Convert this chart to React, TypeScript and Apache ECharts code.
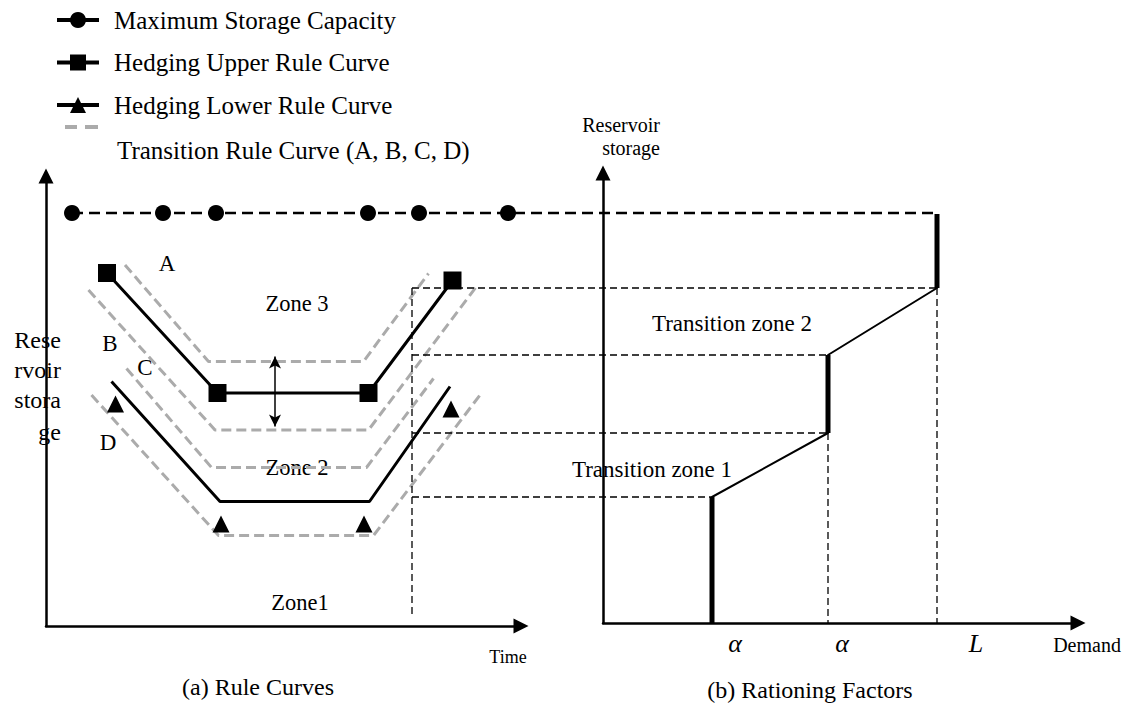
import { useEffect, useRef } from "react";
import * as echarts from "echarts";

// ---------- data (schematic units: 1 unit of time / storage / demand) ----------
const maxStorageTime = [5.2, 23.4, 34, 64.4, 74.6, 92.4];
const maxStorageLevel = 82.6;

const upperRuleTime = [12.2, 34.3, 64.5, 81.3];
const upperRuleStorage = [70.6, 46.6, 46.6, 69.1];

const lowerRuleTime = [13.1, 34.8, 64.7, 80.8];
const lowerRuleStorage = [48.9, 24.9, 24.9, 47.9];
const lowerMarkerTime = [13.9, 35, 63.6, 81];
const lowerMarkerStorage = [44.4, 20.4, 20.4, 43.4];

const curveATime = [15.8, 32.5, 63.5, 76.5];
const curveAStorage = [72.2, 52.9, 52.9, 70.5];
const curveBTime = [8.5, 33.8, 64.5, 86.1];
const curveBStorage = [67.2, 39.2, 39.2, 67.9];
const curveCTime = [16.1, 33.1, 64.1, 77.5];
const curveCStorage = [51.5, 31.7, 31.7, 49.5];
const curveDTime = [9.1, 34.5, 65.5, 86.8];
const curveDStorage = [46.2, 18.1, 18.1, 46.2];

const bufferArrowTime = 45.8;
const bufferArrowStorage = [53.9, 39.9];

const switchTime = 73.2;
const switchBottom = 1.8;

const rationDemand = [21.8, 21.8, 45, 45, 66.8, 66.8];
const rationStorage = [0, 25.2, 38, 53.6, 67, 81.8];

// ---------- layout ----------
const UNIT = 5;
const GRID_A = { left: 46, top: 176, width: 475, height: 450 };
const GRID_B = { left: 603, top: 173, width: 475, height: 450 };
// overlay frame sharing panel (a)'s origin and scale, spanning both panels
const GRID_C = { left: 46, top: 176, width: 1040, height: 450 };
const PANEL_OFFSET = (GRID_B.left - GRID_A.left) / UNIT;
const ORIGIN_SHIFT =
  (GRID_A.top + GRID_A.height - (GRID_B.top + GRID_B.height)) / UNIT;
const SERIF = '"Liberation Serif", "Times New Roman", serif';

const pair = (xs: number[], ys: number[]) => xs.map((x, i) => [x, ys[i]]);

const axisCommon = {
  type: "value" as const,
  min: 0,
  axisTick: { show: false },
  axisLabel: { show: false },
  splitLine: { show: false },
  axisLine: {
    show: true,
    symbol: ["none", "triangle"],
    symbolSize: [15, 15],
    lineStyle: { color: "#000", width: 2.5 },
  },
};

const hiddenAxis = {
  type: "value" as const,
  min: 0,
  show: false,
  splitLine: { show: false },
};

const blackDash = (width: number, dash: number[]) => ({
  color: "#000",
  width,
  type: dash,
  cap: "butt",
});

const txt = (
  text: string,
  x: number,
  y: number,
  size: number,
  align: string = "center",
  italic = false
) => ({
  type: "text",
  x,
  y,
  silent: true,
  style: {
    text,
    font: `${italic ? "italic " : ""}${size}px ${SERIF}`,
    fill: "#000",
    align,
    verticalAlign: "middle",
  },
});

export default function App() {
  const ref = useRef<HTMLDivElement>(null);

  useEffect(() => {
    if (!ref.current) return;
    const chart = echarts.init(ref.current, undefined, { renderer: "svg" });

    const transitionCurves = [
      pair(curveATime, curveAStorage),
      pair(curveBTime, curveBStorage),
      pair(curveCTime, curveCStorage),
      pair(curveDTime, curveDStorage),
    ];

    const TRANSITION = "Transition Rule Curve (A, B, C, D)";
    const series: any[] = [];

    // maximum storage capacity, drawn in the overlay frame so it can reach panel (b)
    series.push({
      type: "line",
      name: "Maximum Storage Capacity",
      xAxisIndex: 2,
      yAxisIndex: 2,
      silent: true,
      symbol: "circle",
      symbolSize: 16,
      itemStyle: { color: "#000" },
      lineStyle: blackDash(2.5, [11, 6]),
      data: [
        ...maxStorageTime.map((t) => [t, maxStorageLevel]),
        { value: [rationDemand[5] + PANEL_OFFSET, maxStorageLevel], symbol: "none" },
      ],
    });

    transitionCurves.forEach((d) => {
      series.push({
        type: "line",
        name: TRANSITION,
        xAxisIndex: 0,
        yAxisIndex: 0,
        silent: true,
        symbol: "none",
        itemStyle: { color: "#ababab" },
        lineStyle: { color: "#ababab", width: 3, type: [10, 5], cap: "butt" },
        data: d,
      });
    });

    series.push({
      type: "line",
      name: "Hedging Upper Rule Curve",
      xAxisIndex: 0,
      yAxisIndex: 0,
      silent: true,
      symbol: "rect",
      symbolSize: 18,
      itemStyle: { color: "#000" },
      lineStyle: { color: "#000", width: 3 },
      data: pair(upperRuleTime, upperRuleStorage),
      markLine: {
        silent: true,
        symbol: ["arrow", "arrow"],
        symbolSize: [9, 12],
        label: { show: false },
        lineStyle: { color: "#000", width: 1.5, type: "solid" },
        data: [
          [
            { coord: [bufferArrowTime, bufferArrowStorage[0]] },
            { coord: [bufferArrowTime, bufferArrowStorage[1]] },
          ],
        ],
      },
    });

    series.push({
      type: "line",
      name: "Hedging Lower Rule Curve",
      xAxisIndex: 0,
      yAxisIndex: 0,
      silent: true,
      symbol: "triangle",
      symbolSize: 17,
      itemStyle: { color: "#000" },
      lineStyle: { color: "#000", width: 0 },
      data: pair(lowerMarkerTime, lowerMarkerStorage),
    });

    series.push({
      type: "line",
      name: "Hedging Lower Rule Curve",
      xAxisIndex: 0,
      yAxisIndex: 0,
      silent: true,
      symbol: "none",
      itemStyle: { color: "#000" },
      lineStyle: { color: "#000", width: 3 },
      data: pair(lowerRuleTime, lowerRuleStorage),
    });

    // switch line in panel (a)
    series.push({
      type: "line",
      xAxisIndex: 2,
      yAxisIndex: 2,
      silent: true,
      symbol: "none",
      lineStyle: blackDash(1.3, [7, 4]),
      data: [
        [switchTime, rationStorage[4] + ORIGIN_SHIFT],
        [switchTime, switchBottom],
      ],
    });

    // horizontal connectors from panel (a) to the rationing curve corners
    [1, 2, 3, 4].forEach((i) => {
      series.push({
        type: "line",
        xAxisIndex: 2,
        yAxisIndex: 2,
        silent: true,
        symbol: "none",
        lineStyle: blackDash(1.3, [7, 4]),
        data: [
          [switchTime, rationStorage[i] + ORIGIN_SHIFT],
          [rationDemand[i] + PANEL_OFFSET, rationStorage[i] + ORIGIN_SHIFT],
        ],
      });
    });

    // vertical drops to the demand axis
    [2, 4].forEach((i) => {
      series.push({
        type: "line",
        xAxisIndex: 1,
        yAxisIndex: 1,
        silent: true,
        symbol: "none",
        lineStyle: blackDash(1.3, [7, 4]),
        data: [
          [rationDemand[i], rationStorage[i]],
          [rationDemand[i], 0],
        ],
      });
    });

    // rationing curve
    series.push({
      type: "line",
      xAxisIndex: 1,
      yAxisIndex: 1,
      silent: true,
      symbol: "none",
      lineStyle: { color: "#000", width: 2 },
      data: pair(rationDemand, rationStorage),
    });
    [0, 2, 4].forEach((i) => {
      series.push({
        type: "line",
        xAxisIndex: 1,
        yAxisIndex: 1,
        silent: true,
        symbol: "none",
        lineStyle: { color: "#000", width: 5, cap: "butt" },
        data: [
          [rationDemand[i], rationStorage[i]],
          [rationDemand[i + 1], rationStorage[i + 1]],
        ],
      });
    });

    const option: any = {
      animation: false,
      backgroundColor: "#fff",
      grid: [
        { ...GRID_A, containLabel: false },
        { ...GRID_B, containLabel: false },
        { ...GRID_C, containLabel: false, show: false },
      ],
      xAxis: [
        { ...axisCommon, gridIndex: 0, max: GRID_A.width / UNIT },
        { ...axisCommon, gridIndex: 1, max: GRID_B.width / UNIT },
        { ...hiddenAxis, gridIndex: 2, max: GRID_C.width / UNIT },
      ],
      yAxis: [
        { ...axisCommon, gridIndex: 0, max: GRID_A.height / UNIT },
        { ...axisCommon, gridIndex: 1, max: GRID_B.height / UNIT },
        { ...hiddenAxis, gridIndex: 2, max: GRID_C.height / UNIT },
      ],
      legend: [
        {
          orient: "vertical",
          left: 55,
          top: 7.5,
          padding: 0,
          itemWidth: 42,
          itemHeight: 20,
          itemGap: 17.5,
          selectedMode: false,
          data: [
            "Maximum Storage Capacity",
            "Hedging Upper Rule Curve",
            "Hedging Lower Rule Curve",
          ],
          lineStyle: { width: 4, type: "solid", color: "#000", opacity: 1 },
          textStyle: {
            fontFamily: SERIF,
            fontSize: 25,
            lineHeight: 25,
            color: "#000",
            padding: [0, 0, 0, 10],
          },
        },
        {
          orient: "vertical",
          left: 65,
          top: 81,
          padding: 0,
          itemWidth: 33,
          itemHeight: 4,
          selectedMode: false,
          formatter: "\n{name}",
          data: [
            {
              name: TRANSITION,
              icon: "path://M0,0H12V4H0Z M20,0H33V4H20Z",
            },
          ],
          textStyle: {
            fontFamily: SERIF,
            fontSize: 25,
            lineHeight: 46,
            color: "#000",
            padding: [0, 0, 0, 14],
          },
        },
      ],
      graphic: [
        txt("A", 167, 263, 23),
        txt("B", 110, 343, 23),
        txt("C", 145, 367, 23),
        txt("D", 108, 442, 23),
        txt("Zone 3", 297, 303, 22.5),
        txt("Zone 2", 297, 467, 22.5),
        txt("Zone1", 300, 602, 22.5),
        txt("Rese", 61, 340, 24, "right"),
        txt("rvoir", 61, 370, 24, "right"),
        txt("stora", 61, 400, 24, "right"),
        txt("ge", 61, 432, 24, "right"),
        txt("Time", 508, 657, 18),
        txt("(a) Rule Curves", 258, 687, 24),
        txt("Reservoir", 660, 125, 20, "right"),
        txt("storage", 660, 148, 20, "right"),
        txt("Transition zone 2", 732, 323, 23),
        txt("Transition zone 1", 652, 469, 23),
        txt("α", 735, 643, 26, "center", true),
        txt("α", 842, 643, 26, "center", true),
        txt("L", 976, 643, 26, "center", true),
        txt("Demand", 1087, 645, 20),
        txt("(b) Rationing Factors", 810, 690, 24),
      ],
      series,
    };

    chart.setOption(option);
    return () => chart.dispose();
  }, []);

  return (
    <div
      ref={ref}
      style={{ position: "fixed", left: 0, top: 0, width: 1130, height: 709, background: "#fff" }}
    />
  );
}
